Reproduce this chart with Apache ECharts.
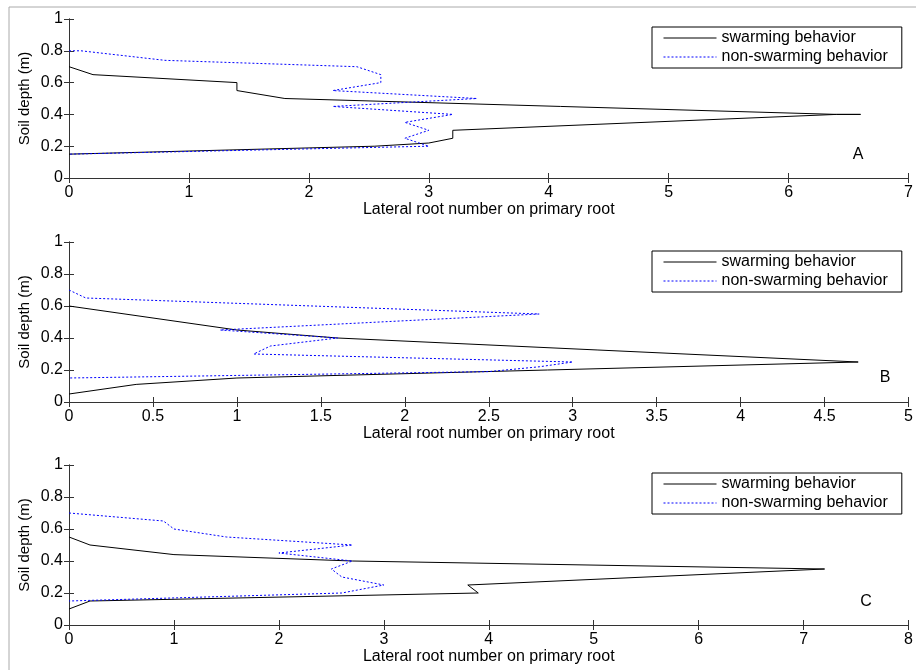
<!DOCTYPE html>
<html>
<head>
<meta charset="utf-8">
<script src="https://cdn.jsdelivr.net/npm/echarts@6/dist/echarts.min.js"></script>
<style>
html, body { margin: 0; padding: 0; background: #fff; }
#chart { width: 916px; height: 670px; }
</style>
</head>
<body>
<div id="chart"></div>
<script>
var seriesNames = ['swarming behavior', 'non-swarming behavior'];
var panelLetters = ['A', 'B', 'C'];
var xMax = [7, 5, 8];
var xStep = [1, 0.5, 1];
var yMax = 1;
var yStep = 0.2;

// points are [lateral root number, soil depth (m)], in drawing order
var swarmA = [[0, 0.7], [0.2, 0.65], [1.4, 0.6], [1.4, 0.55], [1.8, 0.5], [6.4, 0.4], [6.6, 0.4], [6.4, 0.4],
    [3.2, 0.3], [3.2, 0.25], [3.0, 0.22], [2.55, 0.2], [0, 0.15]];
var nonSwarmA = [[0, 0.8], [0.1, 0.8], [0.8, 0.74], [2.4, 0.7], [2.6, 0.65], [2.6, 0.6], [2.2, 0.55], [3.4, 0.5],
    [2.2, 0.45], [3.2, 0.4], [2.8, 0.35], [3.0, 0.3], [2.8, 0.25], [3.0, 0.2], [0, 0.15]];

var swarmB = [[0, 0.6], [1.0, 0.45], [1.6, 0.4], [4.7, 0.25], [1.0, 0.15], [0.4, 0.11], [0, 0.05]];
var nonSwarmB = [[0, 0.7], [0.1, 0.65], [2.8, 0.55], [0.9, 0.45], [1.6, 0.4], [1.2, 0.35], [1.1, 0.3],
    [3.0, 0.25], [2.8, 0.22], [2.5, 0.19], [0, 0.15]];

var swarmC = [[0, 0.55], [0.2, 0.5], [1.0, 0.44], [2.7, 0.4], [7.2, 0.35], [3.8, 0.25], [3.9, 0.2],
    [0.2, 0.15], [0, 0.1]];
var nonSwarmC = [[0, 0.7], [0.9, 0.65], [1.0, 0.6], [1.5, 0.55], [2.7, 0.5], [2.0, 0.45], [2.7, 0.4],
    [2.5, 0.35], [2.6, 0.3], [3.0, 0.25], [2.6, 0.2], [0, 0.15]];

var swarmData = [swarmA, swarmB, swarmC];
var nonSwarmData = [nonSwarmA, nonSwarmB, nonSwarmC];

var gridTops = [19, 242, 465];
var gridHeights = [159, 160, 160];
var legendTops = [27, 251, 473];
var letterPos = [[858, 155], [885, 378], [866, 602]];

var font = 'Liberation Sans, Arial, sans-serif';
var axisColor = '#333';

var grids = [], xAxes = [], yAxes = [], series = [], legends = [], graphics = [];

graphics.push({
    type: 'rect',
    shape: { x: 9, y: 7, width: 1000, height: 1000 },
    style: { fill: 'none', stroke: '#aaa', lineWidth: 1 },
    silent: true
});

for (var i = 0; i < 3; i++) {
    grids.push({ left: 69, right: 4, top: gridTops[i], height: gridHeights[i] });

    // bottom axis with labels
    xAxes.push({
        type: 'value', gridIndex: i, min: 0, max: xMax[i], interval: xStep[i],
        name: 'Lateral root number on primary root', nameLocation: 'middle', nameGap: 24,
        nameMoveOverlap: false,
        nameTextStyle: { fontFamily: font, fontSize: 16, color: '#000' },
        axisLine: { show: true, lineStyle: { color: axisColor } },
        axisTick: { show: true, inside: true, length: 5, lineStyle: { color: axisColor } },
        axisLabel: { margin: 7, fontFamily: font, fontSize: 16, color: '#000' },
        splitLine: { show: false }
    });
    // top axis, ticks only
    xAxes.push({
        type: 'value', gridIndex: i, position: 'top', min: 0, max: xMax[i], interval: xStep[i],
        axisLine: { show: true, lineStyle: { color: axisColor } },
        axisTick: { show: true, inside: true, length: 5, lineStyle: { color: axisColor } },
        axisLabel: { show: false },
        splitLine: { show: false }
    });
    yAxes.push({
        type: 'value', gridIndex: i, min: 0, max: yMax, interval: yStep,
        name: 'Soil depth (m)', nameLocation: 'middle', nameGap: 37, nameRotate: 90,
        nameMoveOverlap: false,
        nameTextStyle: { fontFamily: font, fontSize: 15, color: '#000' },
        axisLine: { show: true, lineStyle: { color: axisColor } },
        axisTick: { show: true, inside: true, length: 5, lineStyle: { color: axisColor } },
        axisLabel: { margin: 6, fontFamily: font, fontSize: 16, color: '#000' },
        splitLine: { show: false }
    });
    yAxes.push({
        type: 'value', gridIndex: i, position: 'right', min: 0, max: yMax, interval: yStep,
        axisLine: { show: true, lineStyle: { color: axisColor } },
        axisTick: { show: true, inside: true, length: 5, lineStyle: { color: axisColor } },
        axisLabel: { show: false },
        splitLine: { show: false }
    });

    series.push({
        name: seriesNames[0], type: 'line', xAxisIndex: i * 2, yAxisIndex: i * 2,
        data: swarmData[i], symbol: 'none', showSymbol: false,
        lineStyle: { color: '#000', width: 1, type: 'solid' }, itemStyle: { color: '#000' }
    });
    series.push({
        name: seriesNames[1], type: 'line', xAxisIndex: i * 2, yAxisIndex: i * 2,
        data: nonSwarmData[i], symbol: 'none', showSymbol: false,
        lineStyle: { color: '#0000ff', width: 1, type: [2, 2] }, itemStyle: { color: '#0000ff' }
    });

    legends.push({
        left: 652, top: legendTops[i], orient: 'vertical',
        data: seriesNames, itemWidth: 53, itemHeight: 14, itemGap: 3,
        padding: [3, 14, 3, 11],
        borderColor: '#000', borderWidth: 1, borderRadius: 0,
        selectedMode: false,
        itemStyle: { opacity: 0 },
        lineStyle: { width: 1 },
        textStyle: { fontFamily: font, fontSize: 16, color: '#000' }
    });

    graphics.push({
        type: 'text', x: letterPos[i][0], y: letterPos[i][1],
        style: { text: panelLetters[i], font: '16px ' + font, fill: '#000', textAlign: 'center', textVerticalAlign: 'middle' },
        silent: true
    });
}

var myChart = echarts.init(document.getElementById('chart'));
myChart.setOption({
    animation: false,
    backgroundColor: '#fff',
    grid: grids,
    xAxis: xAxes,
    yAxis: yAxes,
    legend: legends,
    series: series,
    graphic: graphics
});
</script>
</body>
</html>
